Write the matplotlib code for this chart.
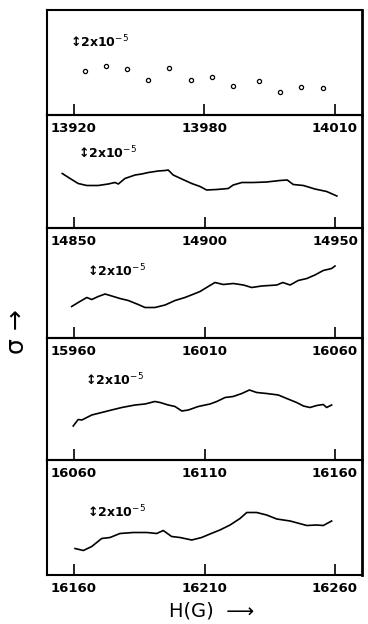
import matplotlib
matplotlib.use("Agg")
import matplotlib.pyplot as plt

# ── Data: field H (gauss) and sigma offset (units of 1e-5) ─────────────────
# panel 1 (points)
h1 = [13923.8, 13931.0, 13938.3, 13945.6, 13952.9, 13960.3,
      13967.7, 13974.9, 13983.8, 13991.0, 13998.4, 14005.8]
s1 = [8.8, 9.8, 9.2, 7.1, 9.5, 7.1, 7.6, 5.8, 6.9, 4.6, 5.7, 5.5]

# panel 2
h2 = [14845.5, 14848.5, 14851.6, 14854.9, 14859.3, 14863.1, 14865.7, 14867.0,
      14869.5, 14873.4, 14875.9, 14878.5, 14882.3, 14884.9, 14886.1, 14888.0,
      14891.3, 14895.1, 14898.3, 14900.8, 14904.7, 14909.1, 14911.0, 14914.3,
      14918.7, 14923.8, 14928.9, 14931.7, 14934.0, 14937.9, 14942.3, 14946.8,
      14950.7]
s2 = [10.9, 9.9, 8.9, 8.5, 8.5, 8.8, 9.1, 8.8,
      9.9, 10.6, 10.8, 11.1, 11.4, 11.5, 11.6, 10.6,
      9.8, 8.9, 8.3, 7.6, 7.7, 7.9, 8.6, 9.1,
      9.1, 9.2, 9.5, 9.6, 8.7, 8.5, 7.8, 7.3,
      6.4]

# panel 3
h3 = [15959.1, 15961.6, 15964.9, 15966.8, 15969.3, 15971.9, 15975.1, 15977.6,
      15980.8, 15984.6, 15987.2, 15991.0, 15994.9, 15998.7, 16002.5, 16006.4,
      16008.3, 16010.8, 16014.0, 16017.2, 16021.0, 16024.9, 16028.1, 16031.9,
      16037.7, 16040.0, 16042.8, 16045.9, 16049.2, 16052.3, 16055.5, 16058.7,
      16060.0]
s3 = [6.3, 7.1, 8.1, 7.7, 8.3, 8.8, 8.3, 7.9,
      7.5, 6.7, 6.1, 6.1, 6.6, 7.5, 8.1, 8.9,
      9.3, 10.1, 11.1, 10.7, 10.9, 10.6, 10.1, 10.4,
      10.6, 11.1, 10.6, 11.5, 11.9, 12.6, 13.5, 13.9,
      14.4]

# panel 4
h4 = [16059.7, 16061.6, 16063.0, 16066.8, 16070.6, 16074.4, 16078.3, 16083.4,
      16087.2, 16091.0, 16093.0, 16096.1, 16098.7, 16101.3, 16103.8, 16107.6,
      16112.1, 16114.7, 16117.9, 16121.0, 16124.3, 16127.2, 16130.0, 16133.8,
      16138.3, 16141.5, 16145.3, 16147.9, 16150.4, 16153.0, 16155.5, 16156.8,
      16158.7]
s4 = [6.8, 8.1, 8.0, 9.0, 9.5, 10.0, 10.5, 11.0,
      11.2, 11.7, 11.5, 11.0, 10.7, 9.8, 10.0, 10.7,
      11.2, 11.7, 12.5, 12.7, 13.3, 14.0, 13.5, 13.3,
      13.0, 12.3, 11.5, 10.8, 10.5, 10.9, 11.1, 10.5,
      11.0]

# panel 5
h5 = [16160.4, 16163.6, 16166.8, 16170.6, 16173.8, 16177.6, 16182.7, 16187.9,
      16191.7, 16194.2, 16197.4, 16200.6, 16205.1, 16208.9, 16212.1, 16215.9,
      16219.8, 16223.6, 16226.2, 16230.0, 16233.8, 16237.7, 16242.8, 16249.2,
      16253.0, 16255.5, 16258.7]
s5 = [5.3, 4.9, 5.7, 7.3, 7.5, 8.3, 8.5, 8.5,
      8.3, 8.9, 7.7, 7.5, 7.0, 7.5, 8.2, 9.0,
      10.0, 11.3, 12.5, 12.5, 12.0, 11.2, 10.8, 9.9,
      10.0, 9.9, 10.8]

tick_pos = [
    [13920, 13965, 14010],
    [14850, 14900, 14950],
    [15960, 16010, 16060],
    [16060, 16110, 16160],
    [16160, 16210, 16260],
]
tick_labels = [
    ["13920", "13980", "14010"],
    ["14850", "14900", "14950"],
    ["15960", "16010", "16060"],
    ["16060", "16110", "16160"],
    ["16160", "16210", "16260"],
]

# ── Layout (pixels) ─────────────────────────────────────────────────────────
W, H = 368, 624
LEFT, RIGHT = 47, 362
edges = [10, 115, 228, 338, 460, 575]
px_per_g = [2.9, 2.61, 2.61, 2.61, 2.61]
first_tick_px = 74
label_pos = [(0.073, 0.695), (0.10, 0.664), (0.127, 0.61), (0.12, 0.656), (0.127, 0.548)]

plt.rcParams.update({"font.family": "DejaVu Sans"})
fig = plt.figure(figsize=(W / 100, H / 100), dpi=100)

series = [(h1, s1), (h2, s2), (h3, s3), (h4, s4), (h5, s5)]
for i, (hx, sy) in enumerate(series):
    top, bot = edges[i], edges[i + 1]
    ax = fig.add_axes([LEFT / W, 1 - bot / H, (RIGHT - LEFT) / W, (bot - top) / H])
    g0 = tick_pos[i][0]
    ppg = px_per_g[i]
    ax.set_xlim(g0 - (first_tick_px - LEFT) / ppg, g0 + (RIGHT - first_tick_px) / ppg)
    ax.set_ylim(0, (bot - top) / 5.0)
    if i == 0:
        ax.plot(hx, sy, "o", ms=3.0, mfc="white", mec="black", mew=0.9)
    else:
        ax.plot(hx, sy, color="black", lw=1.2)
    ax.set_xticks(tick_pos[i])
    ax.set_xticklabels(tick_labels[i], fontsize=9.5, fontweight="bold")
    ax.set_yticks([])
    ax.tick_params(axis="x", direction="in", length=8, width=1.2, pad=5)
    for sp in ax.spines.values():
        sp.set_linewidth(1.5)
    ax.spines["right"].set_linewidth(2.0)
    ax.patch.set_alpha(0)
    lx, ly = label_pos[i]
    ax.text(lx, ly, "\u2195" + "2x10$^{-5}$", transform=ax.transAxes,
            ha="left", va="center", fontsize=9, fontweight="bold")

fig.text(17 / W, 1 - 332 / H, "\u03c3 \u2192", rotation=90, ha="center",
         va="center", fontsize=18)
fig.text(212 / W, 1 - 611 / H, "H(G)  \u27f6", ha="center", va="center",
         fontsize=14)

fig.savefig("out.png", dpi=100)
